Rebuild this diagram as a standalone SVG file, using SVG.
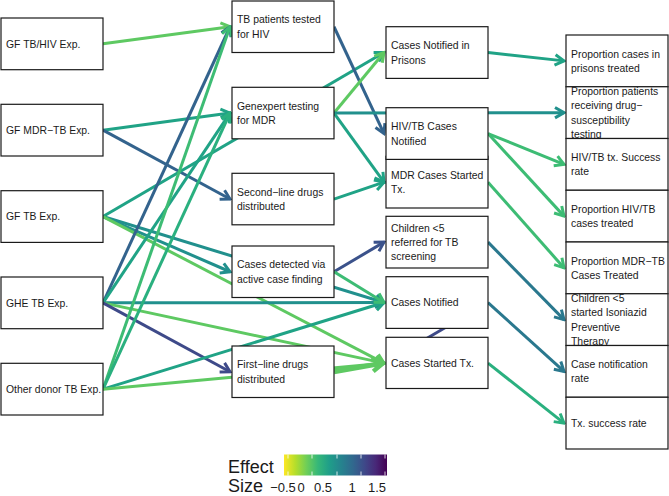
<svg xmlns="http://www.w3.org/2000/svg" width="669" height="496" viewBox="0 0 669 496">
<style>
.e{fill:none;stroke-width:3;stroke-linecap:butt}
.node rect{fill:#fff;stroke:#1a1a1a;stroke-width:1.2}
text{font-family:"Liberation Sans",Arial,sans-serif;font-size:10.4px;fill:#1a1a1a}
.lg{stroke:#5ec962}.g{stroke:#3dbc74}.g2{stroke:#2ab07f}.tg{stroke:#20a386}.t{stroke:#21908d}.t2{stroke:#2a788e}.b{stroke:#33638d}.b2{stroke:#3b528b}.db{stroke:#3e4a89}
.leg{font-size:18px}.tick{font-size:13px;text-anchor:middle}
</style>
<defs>
<marker id="mlg" markerUnits="userSpaceOnUse" viewBox="-12 -8 14 16" markerWidth="14" markerHeight="16" refX="0" refY="0" orient="auto"><path d="M-9,-5.2L0,0L-9,5.2" fill="none" stroke="#5ec962" stroke-width="3"/></marker>
<marker id="mlgT" markerUnits="userSpaceOnUse" viewBox="-15 -10 18 20" markerWidth="18" markerHeight="20" refX="0" refY="0" orient="auto"><path d="M-11,-6.4L0,0L-11,6.4" fill="none" stroke="#5ec962" stroke-width="4.5"/></marker>
<marker id="mg" markerUnits="userSpaceOnUse" viewBox="-12 -8 14 16" markerWidth="14" markerHeight="16" refX="0" refY="0" orient="auto"><path d="M-9,-5.2L0,0L-9,5.2" fill="none" stroke="#3dbc74" stroke-width="3"/></marker>
<marker id="mg2" markerUnits="userSpaceOnUse" viewBox="-12 -8 14 16" markerWidth="14" markerHeight="16" refX="0" refY="0" orient="auto"><path d="M-9,-5.2L0,0L-9,5.2" fill="none" stroke="#2ab07f" stroke-width="3"/></marker>
<marker id="mtg" markerUnits="userSpaceOnUse" viewBox="-12 -8 14 16" markerWidth="14" markerHeight="16" refX="0" refY="0" orient="auto"><path d="M-9,-5.2L0,0L-9,5.2" fill="none" stroke="#20a386" stroke-width="3"/></marker>
<marker id="mt" markerUnits="userSpaceOnUse" viewBox="-12 -8 14 16" markerWidth="14" markerHeight="16" refX="0" refY="0" orient="auto"><path d="M-9,-5.2L0,0L-9,5.2" fill="none" stroke="#21908d" stroke-width="3"/></marker>
<marker id="mt2" markerUnits="userSpaceOnUse" viewBox="-12 -8 14 16" markerWidth="14" markerHeight="16" refX="0" refY="0" orient="auto"><path d="M-9,-5.2L0,0L-9,5.2" fill="none" stroke="#2a788e" stroke-width="3"/></marker>
<marker id="mb" markerUnits="userSpaceOnUse" viewBox="-12 -8 14 16" markerWidth="14" markerHeight="16" refX="0" refY="0" orient="auto"><path d="M-9,-5.2L0,0L-9,5.2" fill="none" stroke="#33638d" stroke-width="3"/></marker>
<marker id="mb2" markerUnits="userSpaceOnUse" viewBox="-12 -8 14 16" markerWidth="14" markerHeight="16" refX="0" refY="0" orient="auto"><path d="M-9,-5.2L0,0L-9,5.2" fill="none" stroke="#3b528b" stroke-width="3"/></marker>
<marker id="mdb" markerUnits="userSpaceOnUse" viewBox="-12 -8 14 16" markerWidth="14" markerHeight="16" refX="0" refY="0" orient="auto"><path d="M-9,-5.2L0,0L-9,5.2" fill="none" stroke="#3e4a89" stroke-width="3"/></marker>
<linearGradient id="vir" x1="0" y1="0" x2="1" y2="0">
<stop offset="0" stop-color="#fde725"/><stop offset="0.11" stop-color="#b5de2b"/><stop offset="0.22" stop-color="#6ece58"/><stop offset="0.33" stop-color="#35b779"/><stop offset="0.44" stop-color="#1f9e89"/><stop offset="0.56" stop-color="#26828e"/><stop offset="0.67" stop-color="#31688e"/><stop offset="0.78" stop-color="#3e4989"/><stop offset="0.89" stop-color="#482878"/><stop offset="1" stop-color="#440154"/>
</linearGradient>
</defs>
<rect width="669" height="496" fill="#fff"/>
<g id="connectors">
<line class="e db" x1="488" y1="302.55" x2="390" y2="360"/>
<line class="e lg" x1="103" y1="43.85" x2="230" y2="26.75" marker-end="url(#mlg)"/>
<line class="e tg" x1="103" y1="130.15" x2="230" y2="113.05" marker-end="url(#mtg)"/>
<line class="e b" x1="103" y1="130.15" x2="230" y2="199.05" marker-end="url(#mb)"/>
<line class="e tg" x1="103" y1="216.55" x2="384" y2="52.55" marker-end="url(#mtg)"/>
<line class="e t" x1="103" y1="216.55" x2="230" y2="271.75" marker-end="url(#mt)"/>
<line class="e t" x1="103" y1="216.55" x2="384" y2="302.55" marker-end="url(#mt)"/>
<line class="e lg" x1="103" y1="216.55" x2="384" y2="363.15" marker-end="url(#mlg)"/>
<line class="e b" x1="103" y1="302.85" x2="230" y2="26.75" marker-end="url(#mb)"/>
<line class="e tg" x1="103" y1="302.85" x2="230" y2="113.05" marker-end="url(#mtg)"/>
<line class="e t" x1="103" y1="302.85" x2="384" y2="302.55" marker-end="url(#mt)"/>
<line class="e lg" x1="103" y1="302.85" x2="384" y2="363.15" marker-end="url(#mlg)"/>
<line class="e db" x1="103" y1="302.85" x2="230" y2="371.75" marker-end="url(#mdb)"/>
<line class="e g" x1="103" y1="389.15" x2="230" y2="26.75" marker-end="url(#mg)"/>
<line class="e g2" x1="103" y1="389.15" x2="230" y2="113.05" marker-end="url(#mg2)"/>
<line class="e tg" x1="103" y1="389.15" x2="384" y2="302.55" marker-end="url(#mtg)"/>
<line class="e lg" x1="103" y1="389.15" x2="384" y2="363.15" marker-end="url(#mlg)"/>
<line class="e b" x1="334" y1="26.75" x2="384" y2="133.55" marker-end="url(#mb)"/>
<line class="e lg" x1="334" y1="113.05" x2="384" y2="52.55" marker-end="url(#mlg)"/>
<line class="e t" x1="334" y1="113.05" x2="564" y2="112.63" marker-end="url(#mt)"/>
<line class="e tg" x1="334" y1="113.05" x2="384" y2="182.15" marker-end="url(#mtg)"/>
<line class="e tg" x1="334" y1="199.05" x2="384" y2="182.15" marker-end="url(#mtg)"/>
<line class="e b2" x1="334" y1="271.75" x2="384" y2="242.15" marker-end="url(#mb2)"/>
<line class="e g" x1="334" y1="271.75" x2="384" y2="302.55" marker-end="url(#mg)"/>
<line class="e lg" style="stroke-width:5" x1="334" y1="371.75" x2="383" y2="363.15" marker-end="url(#mlgT)"/>
<line class="e tg" x1="488" y1="52.55" x2="564" y2="60.88" marker-end="url(#mtg)"/>
<line class="e g" x1="488" y1="133.55" x2="564" y2="164.38" marker-end="url(#mg)"/>
<line class="e g" x1="488" y1="133.55" x2="564" y2="216.13" marker-end="url(#mg)"/>
<line class="e g" x1="488" y1="182.15" x2="564" y2="267.88" marker-end="url(#mg)"/>
<line class="e t2" x1="488" y1="242.15" x2="564" y2="319.63" marker-end="url(#mt2)"/>
<line class="e t2" x1="488" y1="302.55" x2="564" y2="371.38" marker-end="url(#mt2)"/>
<line class="e g2" x1="488" y1="363.15" x2="564" y2="423.13" marker-end="url(#mg2)"/>
</g>
<g id="n_gf_hiv" class="node"><rect x="1" y="18" width="102" height="51.7"/><text x="6" y="47.65">GF TB/HIV Exp.</text></g>
<g id="n_gf_mdr" class="node"><rect x="1" y="104.3" width="102" height="51.7"/><text x="6" y="133.95">GF MDR−TB Exp.</text></g>
<g id="n_gf_tb" class="node"><rect x="1" y="190.7" width="102" height="51.7"/><text x="6" y="220.35">GF TB Exp.</text></g>
<g id="n_ghe" class="node"><rect x="1" y="277" width="102" height="51.7"/><text x="6" y="306.65">GHE TB Exp.</text></g>
<g id="n_od" class="node"><rect x="1" y="363.3" width="102" height="51.7"/><text x="6" y="392.95">Other donor TB Exp.</text></g>
<g id="n_tbhiv" class="node"><rect x="232" y="1" width="102" height="51.5"/><text x="237" y="23.4">TB patients tested</text><text x="237" y="37.7">for HIV</text></g>
<g id="n_genex" class="node"><rect x="232" y="87.3" width="102" height="51.5"/><text x="237" y="109.7">Genexpert testing</text><text x="237" y="124">for MDR</text></g>
<g id="n_sld" class="node"><rect x="232" y="173.3" width="102" height="51.5"/><text x="237" y="195.7">Second−line drugs</text><text x="237" y="210">distributed</text></g>
<g id="n_acf" class="node"><rect x="232" y="246" width="102" height="51.5"/><text x="237" y="268.4">Cases detected via</text><text x="237" y="282.7">active case finding</text></g>
<g id="n_fld" class="node"><rect x="232" y="346" width="102" height="51.5"/><text x="237" y="368.4">First−line drugs</text><text x="237" y="382.7">distributed</text></g>
<g id="n_prison" class="node"><rect x="386" y="26.7" width="102" height="51.7"/><text x="391" y="49.2">Cases Notified in</text><text x="391" y="63.5">Prisons</text></g>
<g id="n_mdrtx" class="node"><rect x="386" y="156.3" width="102" height="51.7"/><text x="391" y="178.8">MDR Cases Started</text><text x="391" y="193.1">Tx.</text></g>
<g id="n_hivtb" class="node"><rect x="386" y="107.7" width="102" height="51.7"/><text x="391" y="130.2">HIV/TB Cases</text><text x="391" y="144.5">Notified</text></g>
<g id="n_child" class="node"><rect x="386" y="216.3" width="102" height="51.7"/><text x="391" y="231.65">Children &lt;5</text><text x="391" y="245.95">referred for TB</text><text x="391" y="260.25">screening</text></g>
<g id="n_notif" class="node"><rect x="386" y="276.7" width="102" height="51.7"/><text x="391" y="306.35">Cases Notified</text></g>
<g id="n_started" class="node"><rect x="386" y="337.3" width="102" height="51.2"/><text x="391" y="366.95">Cases Started Tx.</text></g>
<g id="o_prison" class="node"><rect x="566" y="35" width="102" height="51.75"/><text x="571" y="57.5">Proportion cases in</text><text x="571" y="71.8">prisons treated</text></g>
<g id="o_dst" class="node"><rect x="566" y="86.75" width="102" height="51.75"/><text x="571" y="95">Proportion patients</text><text x="571" y="109.3">receiving drug−</text><text x="571" y="123.6">susceptibility</text><text x="571" y="137.9">testing</text></g>
<g id="o_hivtx" class="node"><rect x="566" y="138.5" width="102" height="51.75"/><text x="571" y="161">HIV/TB tx. Success</text><text x="571" y="175.3">rate</text></g>
<g id="o_prophiv" class="node"><rect x="566" y="190.25" width="102" height="51.75"/><text x="571" y="212.8">Proportion HIV/TB</text><text x="571" y="227.1">cases treated</text></g>
<g id="o_propmdr" class="node"><rect x="566" y="242" width="102" height="51.75"/><text x="571" y="264.5">Proportion MDR−TB</text><text x="571" y="278.8">Cases Treated</text></g>
<g id="o_ipt" class="node"><rect x="566" y="293.75" width="102" height="51.75"/><text x="571" y="302">Children &lt;5</text><text x="571" y="316.3">started Isoniazid</text><text x="571" y="330.6">Preventive</text><text x="571" y="344.9">Therapy</text></g>
<g id="o_cnr" class="node"><rect x="566" y="345.5" width="102" height="51.75"/><text x="571" y="368">Case notification</text><text x="571" y="382.3">rate</text></g>
<g id="o_tsr" class="node"><rect x="566" y="397.25" width="102" height="51.75"/><text x="571" y="426.9">Tx. success rate</text></g>
<g id="legend">
<text class="leg" x="228" y="473">Effect</text>
<text class="leg" x="228" y="492">Size</text>
<rect x="284" y="454.5" width="103" height="21" fill="url(#vir)"/>
<g stroke="#fff" stroke-width="1" opacity="0.8">
<line x1="288" y1="454.5" x2="288" y2="458.5"/><line x1="288" y1="471.5" x2="288" y2="475.5"/>
<line x1="312" y1="454.5" x2="312" y2="458.5"/><line x1="312" y1="471.5" x2="312" y2="475.5"/>
<line x1="337" y1="454.5" x2="337" y2="458.5"/><line x1="337" y1="471.5" x2="337" y2="475.5"/>
<line x1="361" y1="454.5" x2="361" y2="458.5"/><line x1="361" y1="471.5" x2="361" y2="475.5"/>
<line x1="385" y1="454.5" x2="385" y2="458.5"/><line x1="385" y1="471.5" x2="385" y2="475.5"/>
</g>
<text class="tick" x="283" y="492">−0.5</text>
<text class="tick" x="301" y="492">0</text>
<text class="tick" x="323" y="492">0.5</text>
<text class="tick" x="352" y="492">1</text>
<text class="tick" x="377" y="492">1.5</text>
</g>
</svg>
